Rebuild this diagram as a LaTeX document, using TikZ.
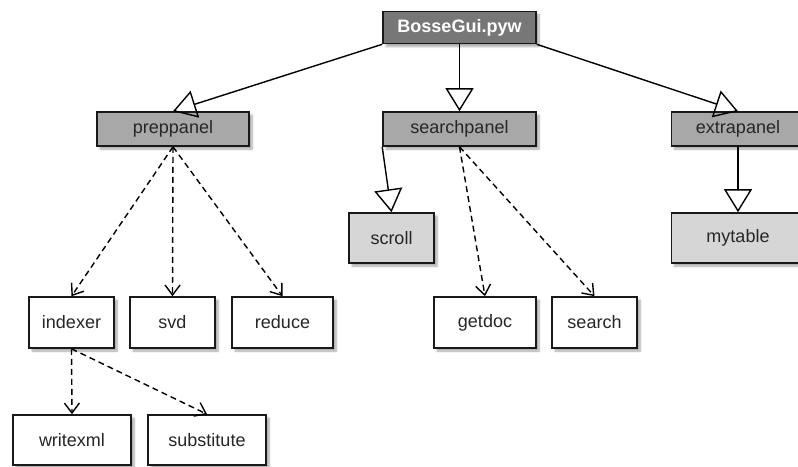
\documentclass[tikz,border=0pt]{standalone}
\usepackage{fontspec}
\setmainfont{Liberation Sans}
\usepackage{tikz}
\usetikzlibrary{arrows.meta,shadows.blur}

\definecolor{topgray}{HTML}{777777}
\definecolor{panelgray}{HTML}{A8A8A8}
\definecolor{subgray}{HTML}{D6D6D6}

\begin{document}
\begin{tikzpicture}[x=1pt,y=-1pt,
    font=\fontsize{18}{20}\selectfont,
    box/.style={draw=black!90, line width=1.6pt, text=black!85, inner sep=0pt,
        blur shadow={shadow xshift=3pt, shadow yshift=-3pt, shadow blur steps=6, shadow opacity=35}},
    topbox/.style={box, fill=topgray, text=white, font=\fontsize{18}{20}\selectfont\bfseries},
    panelbox/.style={box, fill=panelgray},
    subbox/.style={box, fill=subgray},
    leafbox/.style={box, fill=white},
    inherit/.style={line width=1.4pt, -{Triangle[open, length=23pt, width=28pt]}},
    uses/.style={line width=1.4pt, dash pattern=on 6pt off 4pt, -{Straight Barb[length=10pt, width=15pt]}}]

    \useasboundingbox (0,0) rectangle (798,466);

    % Top level module
    \node[topbox, minimum width=153pt, minimum height=32pt] (gui) at (459.5,27.5) {BosseGui.pyw};

    % Panels
    \node[panelbox, minimum width=152pt, minimum height=34pt] (prep) at (173,129) {preppanel};
    \node[panelbox, minimum width=153pt, minimum height=34pt] (searchp) at (459.5,129) {searchpanel};
    \node[panelbox, minimum width=133pt, minimum height=34pt] (extra) at (738,129) {extrapanel};

    % Sub classes
    \node[subbox, minimum width=85pt, minimum height=50pt] (scroll) at (391.5,238) {scroll};
    \node[subbox, minimum width=133pt, minimum height=50pt] (mytable) at (738,238) {mytable};

    % Modules used
    \node[leafbox, minimum width=85pt, minimum height=51pt] (indexer) at (71.5,322.5) {indexer};
    \node[leafbox, minimum width=85pt, minimum height=51pt] (svd) at (172.5,322.5) {svd};
    \node[leafbox, minimum width=101pt, minimum height=51pt] (reduce) at (282.5,322.5) {reduce};
    \node[leafbox, minimum width=102pt, minimum height=51pt] (getdoc) at (485,322.5) {getdoc};
    \node[leafbox, minimum width=85pt, minimum height=51pt] (search) at (594.5,322.5) {search};
    \node[leafbox, minimum width=118pt, minimum height=50pt] (writexml) at (72,440) {writexml};
    \node[leafbox, minimum width=118pt, minimum height=50pt] (subst) at (207,440) {substitute};

    % Inheritance arrows
    \draw[inherit] (gui.south west) -- (prep.north);
    \draw[inherit] (gui.south) -- (searchp.north);
    \draw[inherit] (gui.south east) -- (extra.north);
    \draw[inherit] (searchp.south west) -- (scroll.north);
    \draw[inherit] (extra.south) -- (mytable.north);

    % Dependency arrows
    \draw[uses] (prep.south) -- (indexer.north);
    \draw[uses] (prep.south) -- (svd.north);
    \draw[uses] (prep.south) -- (reduce.north);
    \draw[uses] (searchp.south) -- (getdoc.north);
    \draw[uses] (searchp.south) -- (search.north);
    \draw[uses] (indexer.south) -- (writexml.north);
    \draw[uses] (indexer.south) -- (subst.north);
\end{tikzpicture}
\end{document}
